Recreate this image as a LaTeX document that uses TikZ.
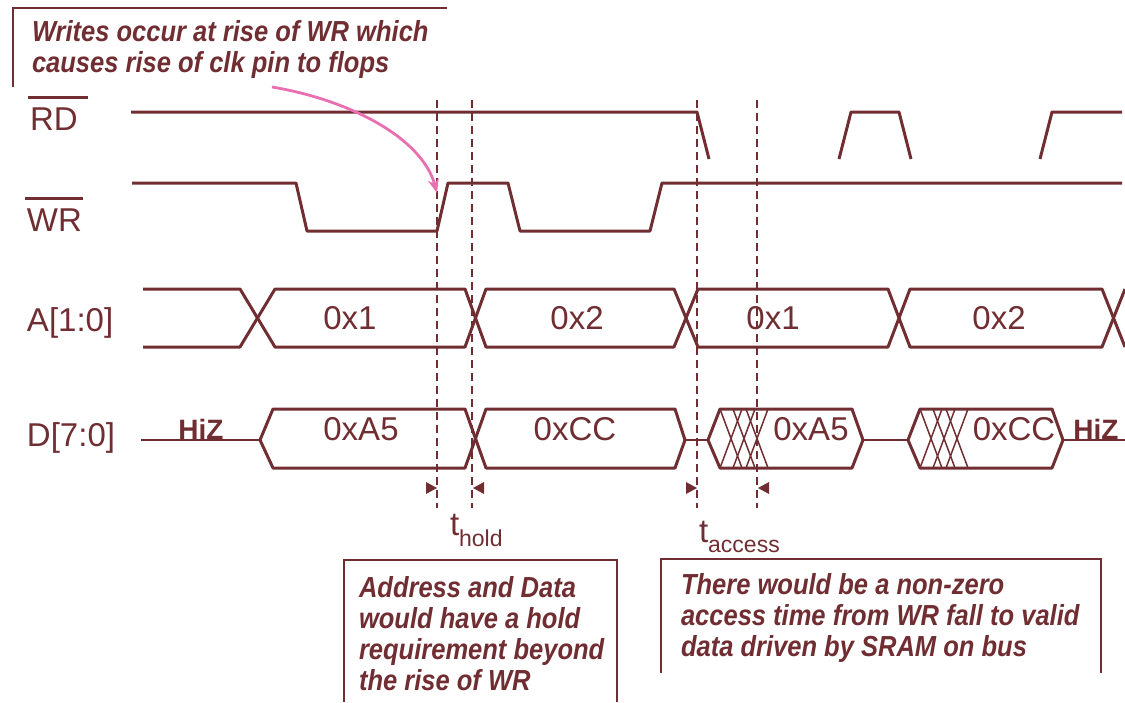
\documentclass[tikz,border=0pt]{standalone}
\usepackage{fontspec}
\setmainfont{Liberation Sans}
\newfontfamily\annfont[FakeStretch=0.88]{Liberation Sans}
\usetikzlibrary{arrows.meta}
\definecolor{mar}{RGB}{112,46,50}
\definecolor{pnk}{RGB}{232,112,176}
\begin{document}
\begin{tikzpicture}[x=1pt,y=-1pt,
  every node/.style={inner sep=0pt, outer sep=0pt, text=mar},
  lbl/.style={font=\fontsize{33}{36}\selectfont},
  val/.style={font=\fontsize{33}{36}\selectfont},
  hiz/.style={font=\bfseries\fontsize{28}{30}\selectfont},
  ann/.style={font=\annfont\bfseries\itshape\fontsize{29}{31}\selectfont, align=left},
  sig/.style={draw=mar, line width=3pt, line join=round},
  bus/.style={draw=mar, line width=3pt, line join=round},
  thinbus/.style={draw=mar, line width=1.8pt},
  hatch/.style={draw=mar, line width=1.5pt},
  boxline/.style={draw=mar, line width=2.6pt},
  dashline/.style={draw=mar, line width=2.4pt, dash pattern=on 8pt off 5pt},
  tri/.style={fill=mar},
  pinkarr/.style={draw=pnk, line width=2.8pt, -{Stealth[length=14pt,width=11pt]}}
]
\useasboundingbox (0,0) rectangle (1125,702);

% annotation boxes
\draw[boxline] (13,87) -- (13,8) -- (447,8);
\draw[boxline] (344,702) -- (344,560) -- (617,560) -- (617,702);
\draw[boxline] (661,673) -- (661,559) -- (1101,559) -- (1101,673);

\node[ann, anchor=base west] (note1) at (32,72) {Writes occur at rise of WR which\\causes rise of clk pin to flops};
\node[ann, anchor=base west] (note2) at (359,690) {Address and Data\\would have a hold\\requirement beyond\\the rise of WR};
\node[ann, anchor=base west] (note3) at (681,656) {There would be a non-zero\\access time from WR fall to valid\\data driven by SRAM on bus};

% signal labels
\node[lbl, anchor=base west] (rdl) at (30,130) {RD};
\draw[mar, line width=2.6pt] ([xshift=-2pt,yshift=10pt]rdl.north west) -- ([xshift=10pt,yshift=10pt]rdl.north east);
\node[lbl, anchor=base west] (wrl) at (27,231) {WR};
\draw[mar, line width=2.6pt] ([xshift=-2pt,yshift=10pt]wrl.north west) -- ([xshift=1pt,yshift=10pt]wrl.north east);
\node[lbl, anchor=base west] (al) at (27,331) {A[1:0]};
\node[lbl, anchor=base west] (dl) at (27,446) {D[7:0]};

% dashed reference lines
\draw[dashline] (437,100) -- (437,508);
\draw[dashline] (472,100) -- (472,508);
\draw[dashline] (697,100) -- (697,508);
\draw[dashline] (757,100) -- (757,508);

% RD
\draw[sig] (131,112) -- (697,112) -- (709,159);
\draw[sig] (839,159) -- (851,112) -- (899,112) -- (911,159);
\draw[sig] (1040,159) -- (1052,112) -- (1122,112);

% WR
\draw[sig] (132,183) -- (296,183) -- (307,231) -- (437,231) -- (448,183) -- (508,183)
  -- (520,231) -- (650,231) -- (662,183) -- (1122,183);

% A bus
\draw[bus] (143,289) -- (240,289) -- (275,347) -- (465,347) -- (486,289) -- (674,289)
  -- (698,347) -- (888,347) -- (910,289) -- (1102,289) -- (1125,347);
\draw[bus] (143,347) -- (240,347) -- (275,289) -- (465,289) -- (486,347) -- (674,347)
  -- (698,289) -- (888,289) -- (910,347) -- (1102,347) -- (1125,289);
\node[val] (a1) at (350,318) {0x1};
\node[val] (a2) at (577,318) {0x2};
\node[val] (a3) at (773,318) {0x1};
\node[val] (a4) at (999,318) {0x2};

% D bus
\draw[thinbus] (141,440) -- (260,440);
\draw[bus] (260,440) -- (273,409) -- (465,409) -- (486,468) -- (675,468) -- (685,440);
\draw[bus] (260,440) -- (273,468) -- (465,468) -- (486,409) -- (675,409) -- (685,440);
\draw[thinbus] (685,440) -- (708,440);
\draw[bus] (708,440) -- (720,409) -- (852,409) -- (863,440) -- (852,468) -- (720,468) -- cycle;
\foreach \a in {720,733,746}{
  \draw[hatch] (\a,409) -- ({\a+22},468);
  \draw[hatch] (\a,468) -- ({\a+22},409);
}
\draw[thinbus] (863,440) -- (908,440);
\draw[bus] (908,440) -- (920,409) -- (1052,409) -- (1063,440) -- (1052,468) -- (920,468) -- cycle;
\foreach \a in {920,933,946}{
  \draw[hatch] (\a,409) -- ({\a+22},468);
  \draw[hatch] (\a,468) -- ({\a+22},409);
}
\draw[thinbus] (1063,440) -- (1125,440);
\node[hiz] (h1) at (201,429) {HiZ};
\node[hiz] (h2) at (1096,429) {HiZ};
\node[val] (d1) at (361,429) {0xA5};
\node[val] (d2) at (575,429) {0xCC};
\node[val] (d3) at (811,429) {0xA5};
\node[val] (d4) at (1014,429) {0xCC};

% timing marks
\fill[tri] (437,488) -- (426,482) -- (426,494) -- cycle;
\fill[tri] (473,488) -- (484,482) -- (484,494) -- cycle;
\fill[tri] (697,488) -- (686,482) -- (686,494) -- cycle;
\fill[tri] (758,488) -- (769,482) -- (769,494) -- cycle;
\node[lbl, anchor=base west] (thold) at (450,535) {t\raisebox{-11pt}{\fontsize{23}{24}\selectfont hold}};
\node[lbl, anchor=base west] (tacc) at (699,542) {t\raisebox{-10pt}{\fontsize{23}{24}\selectfont access}};

% pink arrow
\coordinate (pa) at (272,87);
\coordinate (pb) at (437,193);
\draw[pinkarr] (pa) .. controls (350,100) and (422,138) .. (pb);
\end{tikzpicture}
\end{document}
